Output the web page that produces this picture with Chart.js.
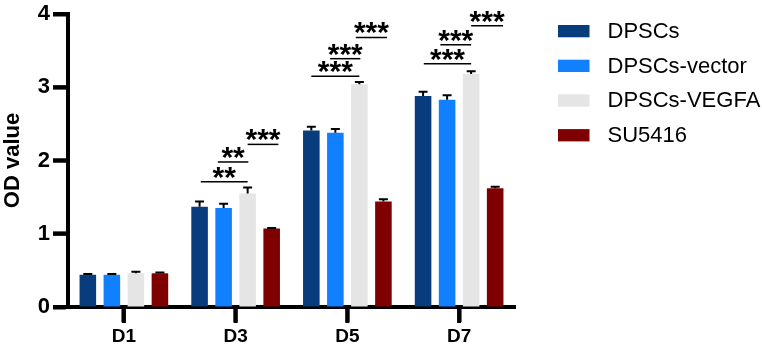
<!DOCTYPE html>
<html>
<head>
<meta charset="utf-8">
<script src="https://cdn.jsdelivr.net/npm/chart.js@4/dist/chart.umd.min.js"></script>
<style>
    html, body { margin: 0; padding: 0; background: #fff; }
    #wrap { width: 762px; height: 347px; position: relative; }
</style>
</head>
<body>
<div id="wrap"><canvas id="chart"></canvas></div>
<script>
// categories and series
const days = ['D1', 'D3', 'D5', 'D7'];
const seriesNames = ['DPSCs', 'DPSCs-vector', 'DPSCs-VEGFA', 'SU5416'];

const dpscs = [0.44, 1.37, 2.41, 2.88];
const dpscsVector = [0.44, 1.35, 2.38, 2.83];
const dpscsVegfa = [0.46, 1.55, 3.04, 3.18];
const su5416 = [0.46, 1.07, 1.44, 1.62];

// upper error (SD) for each bar
const dpscsErr = [0.01, 0.07, 0.05, 0.06];
const dpscsVectorErr = [0.01, 0.06, 0.05, 0.06];
const dpscsVegfaErr = [0.02, 0.08, 0.03, 0.04];
const su5416Err = [0.01, 0.01, 0.03, 0.02];

const yTicks = [0, 1, 2, 3, 4];

// significance brackets: category index, from/to series position, height, label
const sigDay = [1, 1, 1, 2, 2, 2, 3, 3, 3];
const sigFrom = [0.05, 0.76, 2, 0, 0.78, 1.85, 0.03, 0.72, 2];
const sigTo = [2, 2.03, 3.28, 2, 2.04, 3.15, 2, 2, 3.33];
const sigLevel = [1.71, 1.98, 2.22, 3.15, 3.39, 3.68, 3.32, 3.58, 3.84];
const sigLabel = ['**', '**', '***', '***', '***', '***', '***', '***', '***'];

const colors = ['#083c7c', '#1080ff', '#e5e5e5', '#7f0000'];
const FONT = "'Liberation Sans', Arial, sans-serif";

const values = [dpscs, dpscsVector, dpscsVegfa, su5416];
const errors = [dpscsErr, dpscsVectorErr, dpscsVegfaErr, su5416Err];

const datasets = seriesNames.map((name, i) => ({
    label: name,
    data: values[i],
    backgroundColor: colors[i],
    borderWidth: 0,
    categoryPercentage: 0.86,
    barPercentage: 0.69
}));

// axis tick marks, placed with the scales' own tick pixels
const tickMarks = {
    id: 'tickMarks',
    afterDraw(chart) {
        const ctx = chart.ctx;
        const xs = chart.scales.x;
        const ys = chart.scales.y;
        const left = xs.left;
        const bottom = ys.bottom;
        ctx.save();
        ctx.fillStyle = '#000';
        for (let i = 0; i < days.length; i++) {
            const px = xs.getPixelForValue(i);
            ctx.fillRect(px - 2, bottom, 4, 16);
        }
        yTicks.forEach(v => {
            const py = ys.getPixelForValue(v);
            ctx.fillRect(left - 15, py - 2, 15, 4);
        });
        ctx.restore();
    }
};

// draw error caps on top of every bar
const errorBars = {
    id: 'errorBars',
    afterDatasetsDraw(chart) {
        const ctx = chart.ctx;
        const y = chart.scales.y;
        ctx.save();
        ctx.strokeStyle = '#000';
        ctx.lineWidth = 2;
        errors.forEach((errs, i) => {
            chart.getDatasetMeta(i).data.forEach((bar, j) => {
                const top = y.getPixelForValue(values[i][j] + errs[j]);
                ctx.beginPath();
                ctx.moveTo(bar.x, bar.y);
                ctx.lineTo(bar.x, top);
                ctx.moveTo(bar.x - 4.5, top);
                ctx.lineTo(bar.x + 4.5, top);
                ctx.stroke();
            });
        });
        ctx.restore();
    }
};

// significance lines and stars
const sigMarks = {
    id: 'sigMarks',
    afterDatasetsDraw(chart) {
        const ctx = chart.ctx;
        const y = chart.scales.y;
        const m0 = chart.getDatasetMeta(0).data;
        const m1 = chart.getDatasetMeta(1).data;
        ctx.save();
        ctx.strokeStyle = '#000';
        ctx.fillStyle = '#000';
        ctx.lineWidth = 1.5;
        ctx.font = 'bold 30px ' + FONT;
        ctx.textAlign = 'center';
        ctx.textBaseline = 'alphabetic';
        const descent = ctx.measureText('*').actualBoundingBoxDescent;
        sigDay.forEach((d, k) => {
            const pitch = m1[d].x - m0[d].x;
            const x1 = m0[d].x + sigFrom[k] * pitch;
            const x2 = m0[d].x + sigTo[k] * pitch;
            const ly = y.getPixelForValue(sigLevel[k]);
            ctx.beginPath();
            ctx.moveTo(x1, ly);
            ctx.lineTo(x2, ly);
            ctx.stroke();
            ctx.fillText(sigLabel[k], (x1 + x2) / 2, ly - 3 - descent);
        });
        ctx.restore();
    }
};

// legend on the right
const sideLegend = {
    id: 'sideLegend',
    afterDraw(chart) {
        const ctx = chart.ctx;
        ctx.save();
        ctx.font = '22px ' + FONT;
        ctx.textBaseline = 'middle';
        ctx.textAlign = 'left';
        seriesNames.forEach((name, i) => {
            const cy = 31 + i * 34.7;
            ctx.fillStyle = colors[i];
            ctx.fillRect(558, cy - 6, 31.5, 12.3);
            ctx.fillStyle = '#000';
            ctx.fillText(name, 607.5, cy + 1);
        });
        ctx.restore();
    }
};

new Chart(document.getElementById('chart'), {
    type: 'bar',
    data: { labels: days, datasets: datasets },
    options: {
        responsive: true,
        maintainAspectRatio: false,
        animation: false,
        layout: { padding: { top: 12, right: 247, bottom: 0, left: 0 } },
        plugins: {
            legend: { display: false },
            tooltip: { enabled: false }
        },
        scales: {
            x: {
                afterFit: (s) => { s.height = 40; },
                border: { display: true, color: '#000', width: 4 },
                grid: {
                    display: true,
                    offset: false,
                    drawOnChartArea: false,
                    drawTicks: true,
                    tickLength: 15,
                    tickWidth: 4,
                    tickColor: '#000'
                },
                ticks: {
                    color: '#000',
                    padding: 3,
                    font: { family: FONT, size: 19, weight: 'bold' }
                }
            },
            y: {
                min: 0,
                max: 4,
                afterFit: (s) => { s.width = 68; },
                afterBuildTicks: (s) => { s.ticks = yTicks.map(v => ({ value: v })); },
                border: { display: true, color: '#000', width: 4 },
                grid: {
                    display: true,
                    drawOnChartArea: false,
                    drawTicks: true,
                    tickLength: 15,
                    tickWidth: 4,
                    tickColor: '#000'
                },
                ticks: {
                    color: '#000',
                    padding: 3,
                    font: { family: FONT, size: 22, weight: 'bold', lineHeight: 1 }
                },
                title: {
                    display: true,
                    text: 'OD value',
                    color: '#000',
                    padding: 0,
                    font: { family: FONT, size: 22, weight: 'bold' }
                }
            }
        }
    },
    plugins: [tickMarks, errorBars, sigMarks, sideLegend]
});
</script>
</body>
</html>
